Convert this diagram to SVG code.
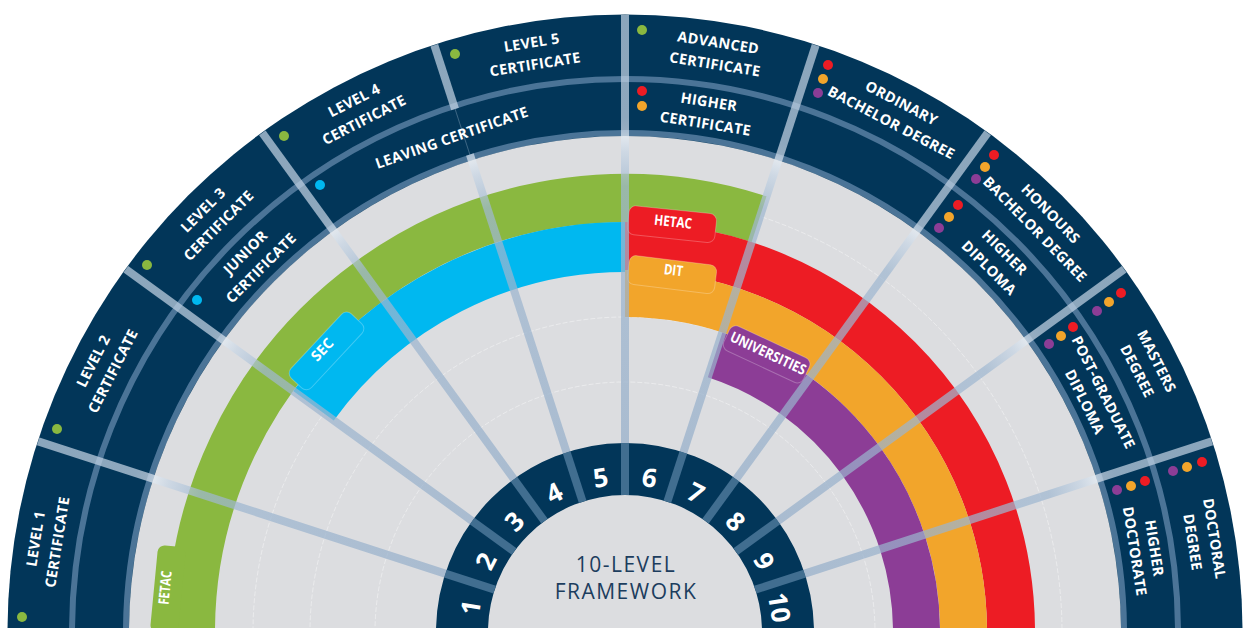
<svg xmlns="http://www.w3.org/2000/svg" width="1250" height="628" viewBox="0 0 1250 628">
<defs>
<style>
.navy{fill:#023659}
.lbl{font-family:"Open Sans","Liberation Sans",sans-serif;font-weight:700;font-size:14.5px;fill:#ffffff;text-anchor:middle;letter-spacing:0.3px}
.tab{font-family:"Open Sans","Liberation Sans",sans-serif;font-weight:700;font-size:14.5px;fill:#ffffff;text-anchor:middle}
.num{font-family:"Open Sans","Liberation Sans",sans-serif;font-weight:700;font-size:26px;fill:#ffffff;text-anchor:middle}
.ctr{font-family:"Open Sans","Liberation Sans",sans-serif;font-weight:400;font-size:21px;fill:#1c3d5e;text-anchor:middle;letter-spacing:1.5px}
.faint{fill:none;stroke:#ffffff;stroke-opacity:0.4;stroke-width:1;stroke-dasharray:5 2}
.spk{fill:url(#sg);fill-opacity:0.72}
.spkin{fill:#416e90}
.tabr{stroke:#ffffff;stroke-opacity:0.25;stroke-width:1}
.g{fill:#8ab840}.b{fill:#00b8f0}.r{fill:#ed1c24}.o{fill:#f2a52b}.p{fill:#8c3d96}
</style>
<linearGradient id="sg" gradientUnits="userSpaceOnUse" x1="814" y1="0" x2="1242" y2="0">
<stop offset="0" stop-color="#96afca"/>
<stop offset="0.6" stop-color="#a0b8d1"/>
<stop offset="0.68" stop-color="#c8d6e5"/>
<stop offset="0.715" stop-color="#e2eaf2"/>
<stop offset="0.73" stop-color="#d0dcea"/>
<stop offset="0.76" stop-color="#c4d4e5"/>
<stop offset="1" stop-color="#c0d1e2"/>
</linearGradient>
</defs>

<g id="ring-base">
<circle cx="625" cy="632" r="617.5" class="navy"/>
<circle cx="625" cy="632" r="553" fill="none" stroke="#4b7497" stroke-width="6"/>
<circle cx="625" cy="632" r="499" fill="none" stroke="#4b7497" stroke-width="6"/>
<circle cx="625" cy="632" r="496" fill="#dcdde0"/>
<circle cx="625" cy="632" r="250" class="faint"/>
<circle cx="625" cy="632" r="315" class="faint"/>
<circle cx="625" cy="632" r="372" class="faint"/>
<circle cx="625" cy="632" r="437" class="faint"/>
</g>

<g id="bands" fill="none">
<path id="band-fetac" d="M191 632 A434 434 0 0 1 759.1 219.2" stroke="#8ab840" stroke-width="48"/>
<path id="band-sec" d="M313.5 405.7 A385 385 0 0 1 625 247" stroke="#00b8f0" stroke-width="50"/>
<path id="band-hetac" d="M625 246 A386 386 0 0 1 1011 632" stroke="#ed1c24" stroke-width="48"/>
<path id="band-dit" d="M625 293.5 A338.5 338.5 0 0 1 963.5 632" stroke="#f2a52b" stroke-width="47"/>
<path id="band-universities" d="M715.1 354.8 A291.5 291.5 0 0 1 916.5 632" stroke="#8c3d96" stroke-width="47"/>
</g>

<g id="tab-fetac" transform="translate(625 632) rotate(-84.5)">
<rect x="-45" y="-473" width="87" height="28" rx="7" class="g"/>
<text class="tab" x="0" y="-457" textLength="34" lengthAdjust="spacingAndGlyphs">FETAC</text>
</g>
<g id="tab-sec" transform="translate(625 632) rotate(-47)">
<rect x="-42" y="-424" width="88" height="28" rx="7" class="b tabr"/>
<text class="tab" x="0" y="-409">SEC</text>
</g>
<g id="tab-hetac" transform="translate(625 632) rotate(6)">
<rect x="-40" y="-425" width="88" height="29" rx="7" class="r tabr"/>
<text class="tab" x="5" y="-408" textLength="38" lengthAdjust="spacingAndGlyphs">HETAC</text>
</g>
<g id="tab-dit" transform="translate(625 632) rotate(7)">
<rect x="-41" y="-375" width="88" height="29" rx="7" class="o tabr"/>
<text class="tab" x="4" y="-360" textLength="19" lengthAdjust="spacingAndGlyphs">DIT</text>
</g>
<g id="tab-universities" transform="translate(625 632) rotate(25)">
<rect x="-33" y="-325" width="88" height="27" rx="7" class="p tabr"/>
<text class="tab" x="12" y="-308" textLength="82" lengthAdjust="spacingAndGlyphs">UNIVERSITIES</text>
</g>

<g id="number-ring">
<circle cx="625" cy="632" r="163" fill="none" stroke="#023659" stroke-width="52"/>
</g>

<g id="spokes">
<g transform="rotate(-18 625 632)"><rect x="762" y="628" width="52" height="8" class="spkin"/><rect x="814" y="628" width="428" height="8" class="spk"/></g>
<g transform="rotate(-36 625 632)"><rect x="762" y="628" width="52" height="8" class="spkin"/><rect x="814" y="628" width="428" height="8" class="spk"/></g>
<g transform="rotate(-54 625 632)"><rect x="762" y="628" width="52" height="8" class="spkin"/><rect x="814" y="628" width="428" height="8" class="spk"/></g>
<g transform="rotate(-72 625 632)"><rect x="762" y="628" width="52" height="8" class="spkin"/><rect x="814" y="628" width="428" height="8" class="spk"/></g>
<g transform="rotate(-90 625 632)"><rect x="762" y="628" width="52" height="8" class="spkin"/><rect x="814" y="628" width="428" height="8" class="spk"/></g>
<g transform="rotate(-108 625 632)"><rect x="762" y="628" width="52" height="8" class="spkin"/><rect x="814" y="628" width="313" height="8" class="spk"/><rect x="1127" y="631.5" width="48" height="1" fill="#c8d8e8" fill-opacity="0.3"/><rect x="1175" y="628" width="67" height="8" class="spk"/></g>
<g transform="rotate(-126 625 632)"><rect x="762" y="628" width="52" height="8" class="spkin"/><rect x="814" y="628" width="428" height="8" class="spk"/></g>
<g transform="rotate(-144 625 632)"><rect x="762" y="628" width="52" height="8" class="spkin"/><rect x="814" y="628" width="428" height="8" class="spk"/></g>
<g transform="rotate(-162 625 632)"><rect x="762" y="628" width="52" height="8" class="spkin"/><rect x="814" y="628" width="428" height="8" class="spk"/></g>
</g>

<g id="numbers">
<text class="num" transform="rotate(-81 625 632)" x="625" y="485">1</text>
<text class="num" transform="rotate(-63 625 632)" x="625" y="485">2</text>
<text class="num" transform="rotate(-45 625 632)" x="625" y="485">3</text>
<text class="num" transform="rotate(-27 625 632)" x="625" y="485">4</text>
<text class="num" transform="rotate(-9 625 632)" x="625" y="485">5</text>
<text class="num" transform="rotate(9 625 632)" x="625" y="485">6</text>
<text class="num" transform="rotate(27 625 632)" x="625" y="485">7</text>
<text class="num" transform="rotate(45 625 632)" x="625" y="485">8</text>
<text class="num" transform="rotate(63 625 632)" x="625" y="485">9</text>
<text class="num" transform="rotate(81 625 632)" x="625" y="485">10</text>
</g>

<g id="center-label">
<text class="ctr" x="626" y="572">10-LEVEL</text>
<text class="ctr" x="626" y="599">FRAMEWORK</text>
</g>

<g id="level-1"><circle cx="22" cy="617" r="5" class="g"/><g transform="rotate(-81 625 632)"><text class="lbl" x="625" y="40.3">LEVEL 1</text><text class="lbl" x="625" y="62.3">CERTIFICATE</text></g></g>
<g id="level-2"><circle cx="57" cy="429" r="5" class="g"/><g transform="rotate(-63 625 632)"><text class="lbl" x="625" y="40.3">LEVEL 2</text><text class="lbl" x="625" y="62.3">CERTIFICATE</text></g></g>
<g id="level-3"><circle cx="147" cy="265" r="5" class="g"/><g transform="rotate(-45 625 632)"><text class="lbl" x="625" y="40.3">LEVEL 3</text><text class="lbl" x="625" y="62.3">CERTIFICATE</text></g></g>
<g id="level-4"><circle cx="284" cy="136" r="5" class="g"/><g transform="rotate(-27 625 632)"><text class="lbl" x="625" y="40.3">LEVEL 4</text><text class="lbl" x="625" y="62.3">CERTIFICATE</text></g></g>
<g id="level-5"><circle cx="455" cy="54" r="5" class="g"/><g transform="rotate(-9 625 632)"><text class="lbl" x="625" y="40.3">LEVEL 5</text><text class="lbl" x="625" y="62.3">CERTIFICATE</text></g></g>
<g id="advanced-certificate"><circle cx="642" cy="30" r="5" class="g"/><g transform="rotate(9 625 632)"><text class="lbl" x="625" y="40.3">ADVANCED</text><text class="lbl" x="625" y="62.3">CERTIFICATE</text></g></g>
<g id="ordinary-bachelor"><circle cx="828" cy="65" r="5" class="r"/><circle cx="823" cy="79" r="5" class="o"/><circle cx="818" cy="93" r="5" class="p"/><g transform="rotate(27.6 625 632)"><text class="lbl" x="625" y="40.3">ORDINARY</text><text class="lbl" x="625" y="62.3">BACHELOR DEGREE</text></g></g>
<g id="honours-bachelor"><circle cx="994" cy="155" r="5" class="r"/><circle cx="985" cy="167" r="5" class="o"/><circle cx="976" cy="179" r="5" class="p"/><g transform="rotate(45.5 625 632)"><text class="lbl" x="625" y="40.3">HONOURS</text><text class="lbl" x="625" y="62.3">BACHELOR DEGREE</text></g></g>
<g id="masters-degree"><circle cx="1121" cy="293" r="5" class="r"/><circle cx="1109" cy="302" r="5" class="o"/><circle cx="1097" cy="311" r="5" class="p"/><g transform="rotate(63 625 632)"><text class="lbl" x="625" y="40.3">MASTERS</text><text class="lbl" x="625" y="62.3">DEGREE</text></g></g>
<g id="doctoral-degree"><circle cx="1202" cy="462" r="5" class="r"/><circle cx="1187" cy="467" r="5" class="o"/><circle cx="1173" cy="471" r="5" class="p"/><g transform="rotate(81 625 632)"><text class="lbl" x="625" y="40.3">DOCTORAL</text><text class="lbl" x="625" y="62.3">DEGREE</text></g></g>

<g id="junior-certificate"><circle cx="197" cy="300" r="5" class="b"/><g transform="rotate(-45 625 632)"><text class="lbl" x="625" y="100.3">JUNIOR</text><text class="lbl" x="625" y="122.3">CERTIFICATE</text></g></g>
<g id="leaving-certificate"><circle cx="320" cy="185" r="5" class="b"/><g transform="rotate(-19.3 625 632)"><text class="lbl" x="625" y="113.3">LEAVING CERTIFICATE</text></g></g>
<g id="higher-certificate"><circle cx="642" cy="91" r="5" class="r"/><circle cx="642" cy="106" r="5" class="o"/><g transform="rotate(9 625 632)"><text class="lbl" x="625" y="100.3">HIGHER</text><text class="lbl" x="625" y="122.3">CERTIFICATE</text></g></g>
<g id="higher-diploma"><circle cx="958" cy="205" r="5" class="r"/><circle cx="949" cy="217" r="5" class="o"/><circle cx="939" cy="228" r="5" class="p"/><g transform="rotate(45 625 632)"><text class="lbl" x="625" y="100.3">HIGHER</text><text class="lbl" x="625" y="122.3">DIPLOMA</text></g></g>
<g id="post-graduate-diploma"><circle cx="1073" cy="327" r="5" class="r"/><circle cx="1061" cy="336" r="5" class="o"/><circle cx="1049" cy="344" r="5" class="p"/><g transform="rotate(63.4 625 632)"><text class="lbl" x="625" y="102">POST-GRADUATE</text><text class="lbl" x="625" y="123">DIPLOMA</text></g></g>
<g id="higher-doctorate"><circle cx="1145" cy="481" r="5" class="r"/><circle cx="1131" cy="486" r="5" class="o"/><circle cx="1117" cy="490" r="5" class="p"/><g transform="rotate(81 625 632)"><text class="lbl" x="625" y="101">HIGHER</text><text class="lbl" x="625" y="121">DOCTORATE</text></g></g>
</svg>
